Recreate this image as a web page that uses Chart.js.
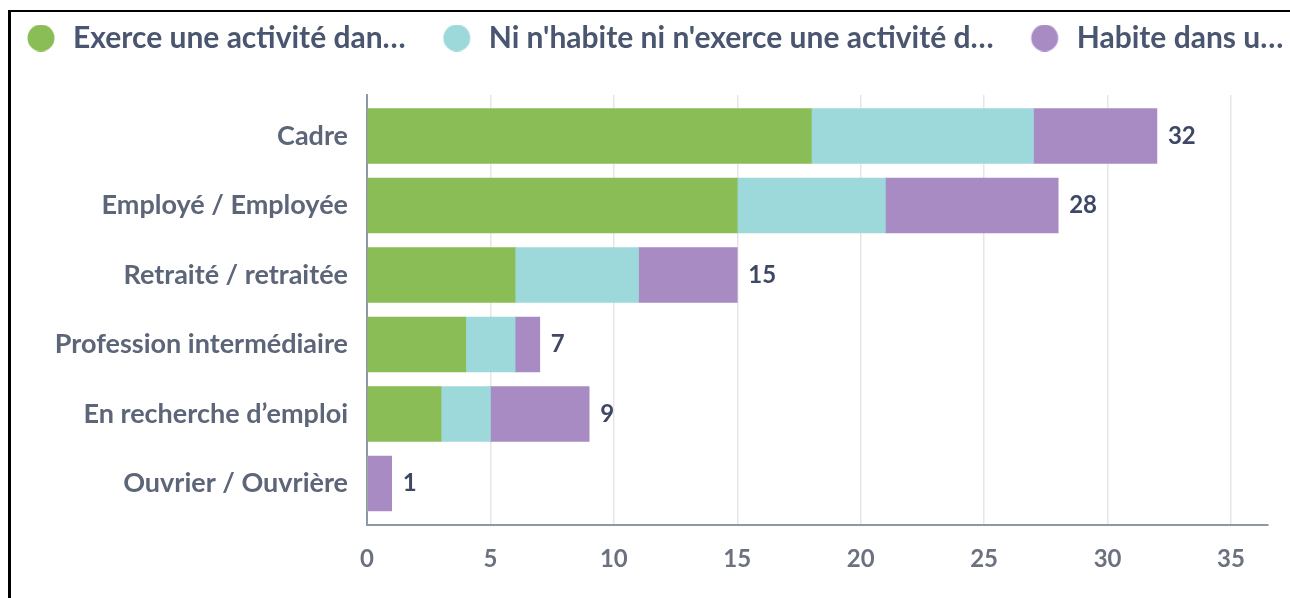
<!DOCTYPE html>
<html>
<head>
<meta charset="utf-8">
<script src="https://cdn.jsdelivr.net/npm/chart.js@4.4.1/dist/chart.umd.min.js"></script>
<style>
  html, body { margin: 0; padding: 0; width: 1290px; height: 598px; overflow: hidden; background: #ffffff; }
  #card { position: absolute; left: 8px; top: 10px; width: 2000px; height: 1000px;
          border-top: 2px solid #000; border-left: 3px solid #000; pointer-events: none; z-index: 2; }
  #c { position: absolute; left: -10px; top: 3px; z-index: 1; }
</style>
</head>
<body>
<div id="card"></div>
<canvas id="c" width="1418" height="595"></canvas>
<script>
const categories = ['Cadre', 'Employé / Employée', 'Retraité / retraitée', 'Profession intermédiaire', 'En recherche d’emploi', 'Ouvrier / Ouvrière'];
const seriesNames = ['Exerce une activité dan…', "Ni n'habite ni n'exerce une activité d…", 'Habite dans u…'];
const exerce = [18, 15, 6, 4, 3, 0];
const niNi = [9, 6, 5, 2, 2, 0];
const habite = [5, 7, 4, 1, 4, 1];
const seriesColors = ['#8bbd56', '#9dd9da', '#a98bc4'];
const xTicks = [0, 5, 10, 15, 20, 25, 30, 35];
const xMax = 36.5;

const seriesValues = [exerce, niNi, habite];
const totals = categories.map((_, i) => exerce[i] + niNi[i] + habite[i]);

function dot(color) {
  const c = document.createElement('canvas');
  c.width = 48; c.height = 27;
  const g = c.getContext('2d');
  g.fillStyle = color;
  g.beginPath();
  g.arc(31, 13.5, 13.5, 0, Math.PI * 2);
  g.fill();
  return c;
}
const dots = seriesColors.map(dot);

const totalsPlugin = {
  id: 'totals',
  afterDatasetsDraw(chart) {
    const ctx = chart.ctx;
    const last = chart.getDatasetMeta(chart.data.datasets.length - 1);
    ctx.save();
    ctx.font = 'bold 24px Lato';
    ctx.fillStyle = '#3e4866';
    ctx.textAlign = 'left';
    ctx.textBaseline = 'middle';
    last.data.forEach((el, i) => {
      ctx.fillText(String(totals[i]), el.x + 11, el.y);
    });
    ctx.restore();
  }
};

function draw() {
  new Chart(document.getElementById('c'), {
    type: 'bar',
    data: {
      datasets: seriesNames.map((name, d) => ({
        label: name,
        data: seriesValues[d].map((v, i) => ({ x: v, y: i })),
        backgroundColor: seriesColors[d],
        borderWidth: 0,
        barThickness: 55
      }))
    },
    options: {
      indexAxis: 'y',
      responsive: false,
      animation: false,
      layout: { padding: { left: 0, right: 0, top: 0, bottom: 4 } },
      scales: {
        x: {
          type: 'linear',
          stacked: true,
          min: 0,
          max: xMax,
          afterBuildTicks: (s) => { s.ticks = xTicks.map(v => ({ value: v })); },
          grid: { color: '#e6e6e6', lineWidth: 1.5, drawTicks: false },
          border: { display: true, color: '#8e96a8', width: 2 },
          ticks: { color: '#6b717f', padding: 20, maxRotation: 0, font: { family: 'Lato', size: 24, weight: 'bold' } }
        },
        y: {
          type: 'linear',
          stacked: true,
          reverse: true,
          offset: false,
          min: -0.59,
          max: 5.6,
          afterBuildTicks: (s) => { s.ticks = categories.map((_, i) => ({ value: i })); },
          afterFit: (s) => { s.width = 377; },
          grid: { display: false, drawTicks: false, offset: false },
          border: { display: true, color: '#8e96a8', width: 2 },
          ticks: {
            color: '#5d6579',
            padding: 19,
            autoSkip: false,
            font: { family: 'Lato', size: 27, weight: 'bold' },
            callback: (v) => categories[v] !== undefined ? categories[v] : ''
          }
        },
        yRight: {
          type: 'linear',
          position: 'right',
          display: true,
          grid: { display: false, drawTicks: false },
          border: { display: false },
          ticks: { display: false },
          afterFit: (s) => { s.width = 140; }
        }
      },
      plugins: {
        tooltip: { enabled: false },
        legend: {
          position: 'top',
          align: 'start',
          weight: 3000,
          labels: {
            usePointStyle: true,
            pointStyleWidth: 48,
            boxHeight: 27,
            padding: 20,
            color: '#4a5670',
            font: { family: 'Lato', size: 30, weight: 'bold' },
            generateLabels(chart) {
              const items = Chart.defaults.plugins.legend.labels.generateLabels(chart);
              items.forEach((it, i) => { it.pointStyle = dots[i]; });
              return items;
            }
          }
        },
        subtitle: {
          display: true,
          text: '',
          font: { size: 10, lineHeight: 1 },
          padding: { top: 22, bottom: 0 }
        }
      }
    },
    plugins: [totalsPlugin]
  });
}

Promise.all([
  document.fonts.load('bold 24px Lato'),
  document.fonts.load('bold 30px Lato')
]).then(draw, draw);
</script>
</body>
</html>
